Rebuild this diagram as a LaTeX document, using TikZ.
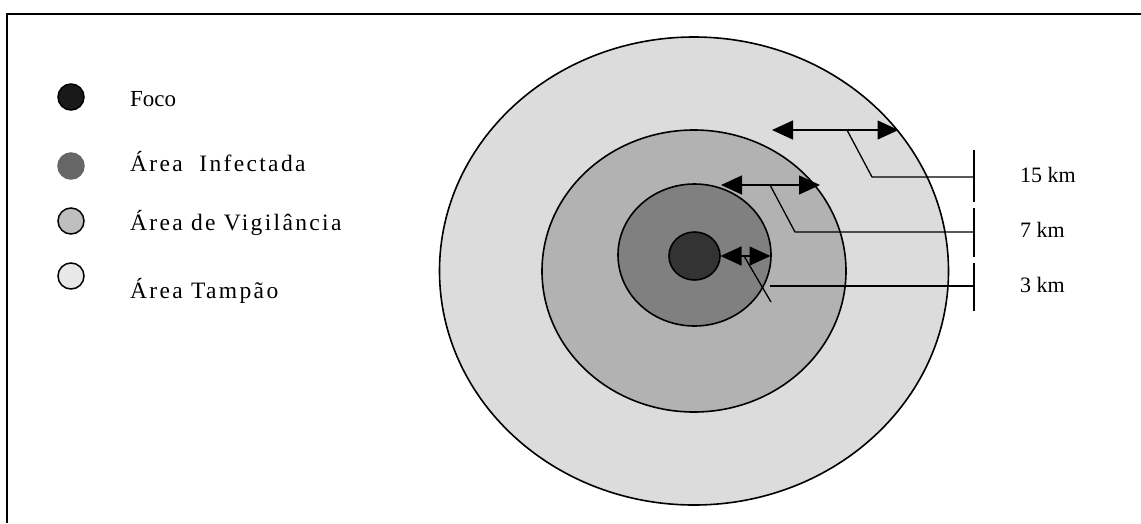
\documentclass[tikz,border=0pt]{standalone}
\usepackage{fontspec}
\setmainfont{Liberation Serif}
\newfontfamily\legfam{Liberation Serif}[LetterSpace=10]
\usetikzlibrary{arrows.meta,shapes.geometric}
\definecolor{cTampao}{gray}{0.863}
\definecolor{cVigil}{gray}{0.698}
\definecolor{cInfect}{gray}{0.502}
\definecolor{cFoco}{gray}{0.2}
\definecolor{lFoco}{gray}{0.1}
\definecolor{lInfect}{gray}{0.4}
\definecolor{lVigil}{gray}{0.75}
\definecolor{lTampao}{gray}{0.91}
\begin{document}
\begin{tikzpicture}[x=1pt,y=-1pt,
  zone/.style={ellipse, draw=black, line width=1.6pt, inner sep=0pt},
  dim/.style={line width=1.3pt, {Triangle[length=21pt,width=19pt]}-{Triangle[length=21pt,width=19pt]}},
  lead/.style={line width=1.3pt},
  tickline/.style={line width=2.2pt},
  legdot/.style={circle, minimum size=26pt, inner sep=0pt, draw=black, line width=1.5pt},
  legtext/.style={anchor=base west, inner sep=0pt, font=\legfam\fontsize{23.5pt}{27pt}\selectfont},
  kmtext/.style={anchor=base west, inner sep=0pt, font=\fontsize{22pt}{26pt}\selectfont}]
\useasboundingbox (0,0) rectangle (1141,523);
% frame
\draw[line width=2.3pt] (7,523) -- (7,14) -- (1141,14);
% zones
\node[zone, fill=cTampao, minimum width=509pt, minimum height=468pt] (tampao) at (694,271) {};
\node[zone, fill=cVigil, minimum width=304pt, minimum height=282pt] (vigil) at (694,271) {};
\node[zone, fill=cInfect, minimum width=153pt, minimum height=142pt] (infect) at (694.5,255) {};
\node[zone, fill=cFoco, minimum width=51pt, minimum height=48pt] (foco) at (694.5,256) {};
% coordinates
\coordinate (a15L) at (772,130);
\coordinate (a15R) at (898.5,130);
\coordinate (a15M) at (847,130);
\coordinate (b15) at (872,177);
\coordinate (t15) at (974,177);
\coordinate (t15a) at (974,150);
\coordinate (t15b) at (974,202);
\coordinate (a7L) at (721,185);
\coordinate (a7R) at (820,185);
\coordinate (a7M) at (770,185);
\coordinate (b7) at (795,232);
\coordinate (t7) at (974,232);
\coordinate (t7a) at (974,208);
\coordinate (t7b) at (974,256.5);
\coordinate (a3L) at (720.5,256);
\coordinate (a3R) at (770.5,256);
\coordinate (a3M) at (744,256);
\coordinate (b3) at (771,302);
\coordinate (h3) at (770,286);
\coordinate (t3) at (974,286);
\coordinate (t3a) at (974,263);
\coordinate (t3b) at (974,311);
% dimension arrows
\draw[dim] (a15L) -- (a15R);
\draw[dim] (a7L) -- (a7R);
\draw[dim] (a3L) -- (a3R);
% leaders
\draw[lead] (a15M) -- (b15) -- (t15);
\draw[lead] (a7M) -- (b7) -- (t7);
\draw[lead] (a3M) -- (b3);
\draw[lead] (h3) -- (t3);
% ticks
\draw[tickline] (t15a) -- (t15b);
\draw[tickline] (t7a) -- (t7b);
\draw[tickline] (t3a) -- (t3b);
% km labels
\node[kmtext] (k15) at (1020,182.5) {15 km};
\node[kmtext] (k7) at (1020,237) {7 km};
\node[kmtext] (k3) at (1020,292) {3 km};
% legend
\node[legdot, fill=lFoco] (dFoco) at (71,97) {};
\node[legdot, fill=lInfect, draw=lInfect] (dInfect) at (71,166) {};
\node[legdot, fill=lVigil] (dVigil) at (71,221) {};
\node[legdot, fill=lTampao] (dTampao) at (71,276) {};
\node[kmtext, font=\fontsize{23pt}{27pt}\selectfont] (xFoco) at (130,106) {Foco};
\node[legtext] (xInfect) at (130,171) {Área\ \ Infectada};
\node[legtext] (xVigil) at (130,230) {Área de Vigilância};
\node[legtext] (xTampao) at (130,298) {Área Tampão};
\end{tikzpicture}
\end{document}
